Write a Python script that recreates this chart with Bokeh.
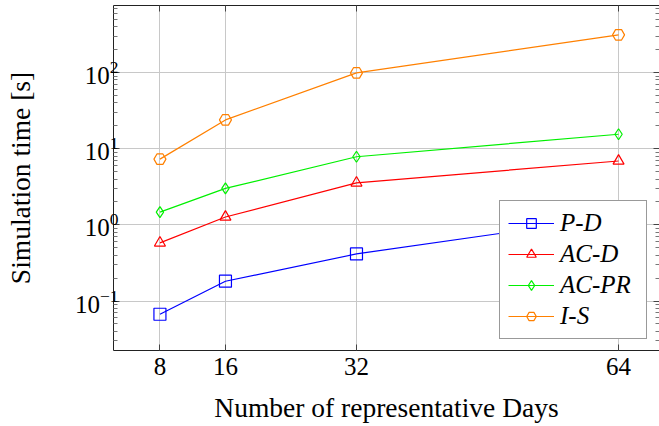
from bokeh.plotting import figure
from bokeh.models import FixedTicker, LinearAxis, LogAxis, Range1d, Legend
from bokeh.embed import file_html
from bokeh.resources import INLINE

days = [8, 16, 32, 64]
p_d = [0.067, 0.182, 0.415, 1.29]
ac_d = [0.58, 1.27, 3.56, 6.9]
ac_pr = [1.47, 3.01, 7.85, 15.5]
i_s = [7.3, 23.9, 99, 313]

series_names = ["P-D", "AC-D", "AC-PR", "I-S"]
series_values = [p_d, ac_d, ac_pr, i_s]
colors = ["#0000ff", "#ff0000", "#00f000", "#ff8000"]
markers = ["square", "triangle", "diamond", "hex"]
msizes = [12, 11, 11, 12]

x_ticks = [8, 16, 32, 64]
y_ticks = [0.1, 1, 10, 100]
y_minor = [m * d for d in [0.01, 0.1, 1, 10, 100] for m in range(2, 10)]

FONT = "Liberation Serif"

p = figure(width=659, height=426, y_axis_type="log",
           x_range=Range1d(2.33, 69.0), y_range=Range1d(0.0224, 760),
           output_backend="svg", toolbar_location=None,
           min_border_left=113, min_border_bottom=76, min_border_top=5, min_border_right=0)

p.outline_line_color = None
p.background_fill_color = "white"

xt = FixedTicker(ticks=x_ticks)
yt = FixedTicker(ticks=y_ticks, minor_ticks=y_minor)

xa = p.xaxis[0]
xa.ticker = xt
xa.axis_label = "Number of representative Days"
ya = p.yaxis[0]
ya.ticker = yt
ya.axis_label = "Simulation time [s]"

for ax in (xa, ya):
    ax.axis_label_text_font = FONT
    ax.axis_label_text_font_size = "27.5px"
    ax.axis_label_text_font_style = "normal"
    ax.axis_label_text_color = "black"
    ax.major_label_text_font = FONT
    ax.major_label_text_font_size = "25px"
    ax.major_label_text_color = "black"
    ax.axis_line_color = "#222222"
    ax.major_tick_in = 6
    ax.major_tick_out = 0
    ax.major_tick_line_color = "#444444"
    ax.minor_tick_in = 4
    ax.minor_tick_out = 0
    ax.minor_tick_line_color = "#777777"

xa.minor_tick_line_color = None
xa.major_label_standoff = 7
xa.axis_label_standoff = 14
ya.major_label_standoff = -5
ya.axis_label_standoff = 36

top = LinearAxis(ticker=xt, major_label_text_font_size="1px", major_label_text_color=None,
                 major_label_standoff=0,
                 major_tick_in=6, major_tick_out=0, minor_tick_line_color=None,
                 axis_line_color="#222222", major_tick_line_color="#444444")
right = LogAxis(ticker=yt, major_label_text_font_size="1px", major_label_text_color=None,
                major_label_standoff=0,
                major_tick_in=6, major_tick_out=0, minor_tick_in=4, minor_tick_out=0,
                axis_line_color="#222222", major_tick_line_color="#444444",
                minor_tick_line_color="#777777")
p.add_layout(top, "above")
p.add_layout(right, "right")

p.xgrid.ticker = xt
p.ygrid.ticker = yt
p.xgrid.grid_line_color = "#c8c8c8"
p.ygrid.grid_line_color = "#c8c8c8"
p.ygrid.minor_grid_line_color = None

items = []
for name, vals, c, m, s in zip(series_names, series_values, colors, markers, msizes):
    r1 = p.line(days, vals, line_color=c, line_width=1.2)
    r2 = p.scatter(days, vals, marker=m, size=s, line_color=c, fill_color=None, line_width=1.2)
    items.append((name, [r1, r2]))

legend = Legend(items=items, location=(386, 11), margin=0, padding=8, spacing=3,
                glyph_width=46, glyph_height=24, label_height=24, label_width=78,
                label_standoff=6,
                label_text_font=FONT, label_text_font_size="25px",
                label_text_font_style="italic", label_text_color="black",
                border_line_color="#333333", border_line_width=1,
                background_fill_color="white", background_fill_alpha=1)
p.add_layout(legend, "center")

open("out.html", "w").write(file_html(p, INLINE))
